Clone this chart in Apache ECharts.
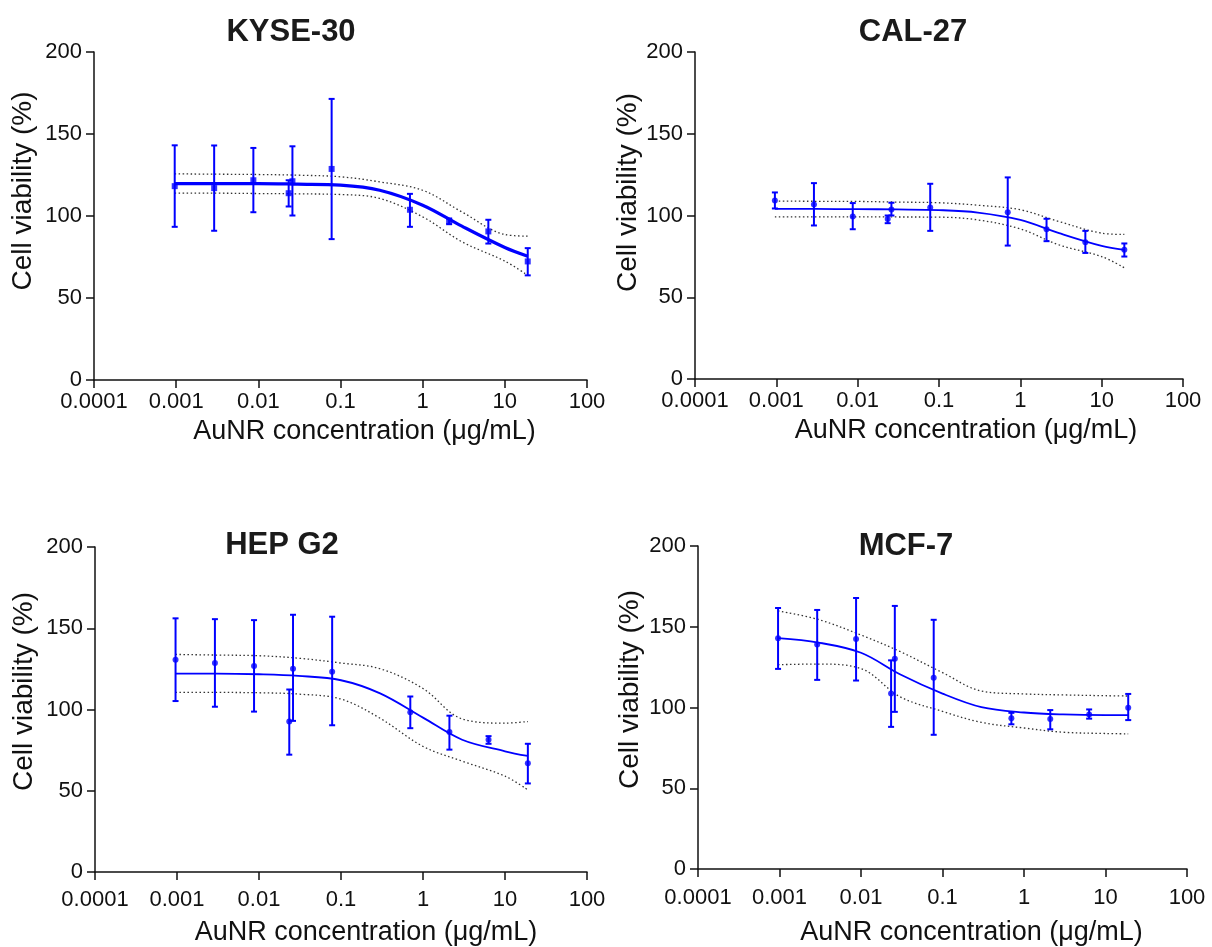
<!DOCTYPE html>
<html>
<head>
<meta charset="utf-8">
<title>Cell viability</title>
<script src="https://cdn.jsdelivr.net/npm/echarts@6/dist/echarts.min.js"></script>
<style>
  html, body { margin: 0; padding: 0; background: #fff; }
  #main { width: 1212px; height: 947px; }
</style>
</head>
<body>
<div id="main"></div>
<script>
// 浓度 (μg/mL)
var conc = [0.00096, 0.0029, 0.0087, 0.0234, 0.026, 0.078, 0.70, 2.1, 6.3, 19];
// 拟合曲线取样点
var curveX = [0.00096, 0.003, 0.01, 0.03, 0.1, 0.3, 1, 3, 10, 19];
var xTickLabels = ['0.0001', '0.001', '0.01', '0.1', '1', '10', '100'];
var yTickLabels = ['0', '50', '100', '150', '200'];
var titles = ['KYSE-30', 'CAL-27', 'HEP G2', 'MCF-7'];

// KYSE-30
var kyseMean = [118.2, 117.0, 121.8, 113.9, 121.2, 128.7, 103.8, 96.9, 90.6, 72.3];
var kyseHi = [143.1, 143.0, 141.5, 121.8, 142.5, 171.4, 113.5, 98.5, 97.7, 80.4];
var kyseLo = [93.4, 91.0, 102.3, 105.8, 100.3, 85.9, 93.4, 95.0, 83.2, 63.8];
var kyseFit = [119.8, 119.8, 119.8, 119.4, 118.8, 115.7, 106.6, 93.8, 80.8, 75.5];
var kyseUpper = [125.7, 125.5, 125.3, 124.9, 123.9, 120.8, 115.7, 102.5, 88.7, 87.7];
var kyseLower = [113.9, 113.9, 113.7, 113.5, 113.1, 110.7, 99.5, 84.3, 72.5, 63.8];

// CAL-27
var calMean = [109.2, 106.7, 99.4, 97.8, 103.7, 104.9, 102.0, 91.6, 83.7, 79.0];
var calHi = [114.1, 119.8, 107.6, 100.0, 107.8, 119.4, 123.3, 98.0, 90.6, 82.9];
var calLo = [104.3, 93.9, 91.6, 95.3, 100.0, 90.6, 81.6, 84.3, 77.1, 74.9];
var calFit = [104.1, 104.0, 103.9, 103.7, 103.3, 101.8, 97.3, 89.2, 81.4, 79.0];
var calUpper = [108.8, 108.7, 108.6, 108.2, 107.8, 106.3, 103.5, 96.3, 89.2, 88.4];
var calLower = [99.2, 99.2, 99.2, 99.1, 99.0, 97.3, 91.8, 82.0, 74.9, 68.0];

// HEP G2
var hepMean = [130.6, 128.6, 126.8, 92.6, 125.1, 123.3, 98.3, 86.1, 81.4, 66.9];
var hepHi = [156.1, 155.6, 155.0, 112.3, 158.3, 157.1, 108.0, 96.2, 83.6, 78.9];
var hepLo = [105.2, 101.7, 98.7, 72.2, 93.0, 90.3, 88.5, 75.3, 78.9, 54.5];
var hepFit = [122.1, 122.1, 121.7, 120.7, 118.0, 109.9, 95.0, 81.4, 74.3, 71.4];
var hepUpper = [133.9, 133.5, 133.1, 131.6, 128.6, 125.1, 112.9, 94.2, 91.6, 92.6];
var hepLower = [110.5, 110.5, 110.3, 109.5, 106.4, 94.6, 77.3, 68.2, 59.0, 50.5];

// MCF-7
var mcfMean = [142.9, 139.0, 142.4, 108.6, 130.2, 118.4, 93.3, 92.9, 95.7, 99.8];
var mcfHi = [161.6, 160.4, 167.8, 129.2, 162.9, 154.3, 96.7, 98.4, 98.8, 108.4];
var mcfLo = [123.9, 117.1, 116.7, 88.0, 97.3, 83.1, 89.6, 86.5, 93.1, 92.2];
var mcfFit = [142.9, 140.2, 133.9, 120.6, 108.6, 100.2, 96.9, 95.7, 95.3, 95.3];
var mcfUpper = [159.8, 154.5, 144.9, 134.7, 121.6, 110.2, 108.4, 107.8, 107.3, 107.1];
var mcfLower = [126.5, 126.9, 124.1, 106.7, 97.6, 90.8, 87.3, 84.7, 83.9, 83.7];

var FONT = '"Liberation Sans", Arial, sans-serif';
var BLUE = '#0000ff';

// 四个子图的布局 (xShift/yShift: 轴名称相对轴中点的偏移)
var panels = [
  { mean: kyseMean, hi: kyseHi, lo: kyseLo, fit: kyseFit, up: kyseUpper, low: kyseLower,
    grid: { left: 94, top: 52, width: 493, height: 328 }, title: [286, 12], symbol: 'rect', fitWidth: 3.2,
    labelMargin: 11, xNameGap: 38, yNameGap: 57, xShift: 24, yShift: 25 },
  { mean: calMean, hi: calHi, lo: calLo, fit: calFit, up: calUpper, low: calLower,
    grid: { left: 695, top: 52, width: 488, height: 327 }, title: [908, 12], symbol: 'circle', fitWidth: 1.8,
    labelMargin: 11, xNameGap: 38, yNameGap: 53, xShift: 27, yShift: 23 },
  { mean: hepMean, hi: hepHi, lo: hepLo, fit: hepFit, up: hepUpper, low: hepLower,
    grid: { left: 95, top: 547, width: 492, height: 328 }, title: [277, 525], symbol: 'circle', fitWidth: 1.8,
    labelMargin: 17, xNameGap: 47, yNameGap: 57, xShift: 25, yShift: 18 },
  { mean: mcfMean, hi: mcfHi, lo: mcfLo, fit: mcfFit, up: mcfUpper, low: mcfLower,
    grid: { left: 698, top: 546, width: 489, height: 327 }, title: [901, 526], symbol: 'circle', fitWidth: 1.8,
    labelMargin: 18, xNameGap: 50, yNameGap: 54, xShift: 29, yShift: 18 }
];

function pairs(xs, ys) {
  return xs.map(function (x, i) { return [x, ys[i]]; });
}

// 误差棒
function renderErrorBar(params, api) {
  var x = api.value(0);
  var top = api.coord([x, api.value(1)]);
  var bot = api.coord([x, api.value(2)]);
  var cap = 3;
  var style = { stroke: BLUE, lineWidth: 2 };
  return {
    type: 'group',
    children: [
      { type: 'line', shape: { x1: top[0], y1: top[1], x2: bot[0], y2: bot[1] }, style: style },
      { type: 'line', shape: { x1: top[0] - cap, y1: top[1], x2: top[0] + cap, y2: top[1] }, style: style },
      { type: 'line', shape: { x1: bot[0] - cap, y1: bot[1], x2: bot[0] + cap, y2: bot[1] }, style: style }
    ]
  };
}

var option = {
  backgroundColor: '#fff',
  animation: false,
  title: [],
  grid: [],
  xAxis: [],
  yAxis: [],
  series: []
};

panels.forEach(function (p, i) {
  option.title.push({
    text: titles[i],
    left: p.title[0],
    top: p.title[1],
    textAlign: 'center',
    textStyle: { fontFamily: FONT, fontSize: 31, fontWeight: 'bold', color: '#1a1a1a' }
  });
  option.grid.push(p.grid);
  option.xAxis.push({
    gridIndex: i,
    type: 'log',
    logBase: 10,
    min: 0.0001,
    max: 100,
    splitNumber: 6,
    name: 'AuNR concentration (μg/mL)',
    nameLocation: 'middle',
    nameGap: p.xNameGap,
    nameTextStyle: { fontFamily: FONT, fontSize: 27, color: '#111', padding: [0, 0, 0, p.xShift * 2] },
    axisLine: { lineStyle: { color: '#111', width: 1.5 } },
    axisTick: { length: 8, lineStyle: { color: '#111', width: 1.5 } },
    minorTick: { show: false },
    splitLine: { show: false },
    axisLabel: {
      margin: p.labelMargin,
      fontFamily: FONT, fontSize: 22, color: '#111',
      formatter: function (v) {
        var e = Math.round(Math.log(v) / Math.LN10);
        return xTickLabels[e + 4];
      }
    }
  });
  option.yAxis.push({
    gridIndex: i,
    type: 'value',
    min: 0,
    max: 200,
    interval: 50,
    name: 'Cell viability (%)',
    nameLocation: 'middle',
    nameRotate: 90,
    nameGap: p.yNameGap,
    nameTextStyle: { fontFamily: FONT, fontSize: 28, color: '#111', padding: [0, 0, 0, p.yShift * 2] },
    axisLine: { show: true, lineStyle: { color: '#111', width: 1.5 } },
    axisTick: { show: true, length: 8, lineStyle: { color: '#111', width: 1.5 } },
    splitLine: { show: false },
    axisLabel: {
      margin: 12,
      fontFamily: FONT, fontSize: 22, color: '#111',
      formatter: function (v) { return yTickLabels[Math.round(v / 50)]; }
    }
  });

  // 置信带 (虚线)
  [p.up, p.low].forEach(function (band) {
    option.series.push({
      type: 'line', xAxisIndex: i, yAxisIndex: i,
      data: pairs(curveX, band),
      smooth: 0.35, showSymbol: false, silent: true, z: 1,
      lineStyle: { color: '#333', width: 1.3, type: [1.5, 2.5] }
    });
  });
  // 拟合曲线
  option.series.push({
    type: 'line', xAxisIndex: i, yAxisIndex: i,
    data: pairs(curveX, p.fit),
    smooth: 0.35, showSymbol: false, silent: true, z: 2,
    lineStyle: { color: BLUE, width: p.fitWidth }
  });
  // 误差棒
  option.series.push({
    type: 'custom', xAxisIndex: i, yAxisIndex: i,
    data: conc.map(function (c, k) { return [c, p.hi[k], p.lo[k]]; }),
    encode: { x: 0, y: [1, 2] },
    renderItem: renderErrorBar, silent: true, z: 3
  });
  // 均值点
  option.series.push({
    type: 'scatter', xAxisIndex: i, yAxisIndex: i,
    data: pairs(conc, p.mean),
    symbol: p.symbol, symbolSize: 6, silent: true, z: 4,
    itemStyle: { color: BLUE }
  });
});

var chart = echarts.init(document.getElementById('main'), null, { renderer: 'canvas' });
chart.setOption(option);
</script>
</body>
</html>
